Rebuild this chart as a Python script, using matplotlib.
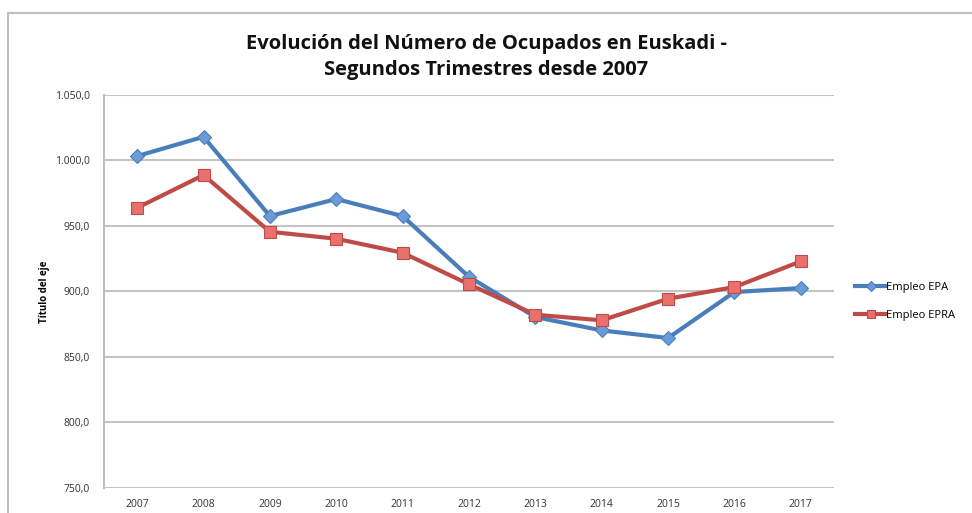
import numpy as np
import matplotlib
matplotlib.use("Agg")
from matplotlib import pyplot as plt
from matplotlib.patches import Rectangle
from matplotlib.ticker import FuncFormatter

### Data (thousands of employed, Q2 each year)
years = ['2007', '2008', '2009', '2010', '2011', '2012',
         '2013', '2014', '2015', '2016', '2017']
empleo_epa = [1003.3, 1018.0, 957.5, 970.5, 957.5, 911.1,
              880.4, 870.2, 864.4, 899.5, 902.5]
empleo_epra = [963.8, 988.8, 945.5, 940.2, 929.5, 905.4,
               882.2, 877.9, 894.4, 903.3, 922.9]
series_names = ['Empleo EPA', 'Empleo EPRA']

title = u'Evolución del Número de Ocupados en Euskadi -\nSegundos Trimestres desde 2007'
ylabel = u'Título del eje'

plt.rcParams['font.family'] = ['Open Sans', 'DejaVu Sans']

fig = plt.figure(figsize=(9.72, 5.13), dpi=100)
ax = fig.add_axes([0.107, 0.049, 0.751, 0.766])

# outer chart frame (cut off at right and bottom like the screenshot)
fig.patches.append(Rectangle((8 / 972., -0.1), 1.2, 1 - 13 / 513. + 0.1,
                             transform=fig.transFigure, fill=False,
                             edgecolor='#bfbfbf', linewidth=1.5))

x = np.arange(len(years))
ax.plot(x, empleo_epa, color='#4a7ebb', linewidth=3, marker='D',
        markersize=7, markerfacecolor='#6a9bd8', markeredgecolor='#4a7ebb',
        markeredgewidth=0.8, label=series_names[0], zorder=3)
ax.plot(x, empleo_epra, color='#be4b48', linewidth=3, marker='s',
        markersize=9, markerfacecolor='#e8716d', markeredgecolor='#be4b48',
        markeredgewidth=0.8, label=series_names[1], zorder=3)

ax.set_xlim(-0.5, len(years) - 0.5)
ax.set_ylim(750, 1050)
ax.set_yticks(np.arange(750, 1051, 50))
ax.yaxis.set_major_formatter(FuncFormatter(
    lambda v, p: '{:,.1f}'.format(v).replace(',', 'X').replace('.', ',').replace('X', '.')))
ax.set_xticks(x)
ax.set_xticklabels(years)

ax.grid(axis='y', color='#c4c4c4', linewidth=1.5)
ax.set_axisbelow(True)
for s in ['top', 'right', 'bottom']:
    ax.spines[s].set_visible(False)
ax.spines['left'].set_color('#bfbfbf')
ax.spines['left'].set_linewidth(1.5)
ax.tick_params(axis='both', length=0, labelsize=7.5, colors='#333333', pad=8)
ax.tick_params(axis='y', pad=10)

ax.set_ylabel(ylabel, fontsize=7, fontweight='bold', labelpad=4)
fig.text(0.50, 0.889, title, ha='center', va='center', fontsize=14.5,
         fontweight='bold', linespacing=1.4, color='#111111')

leg = ax.legend(loc='center left', bbox_to_anchor=(1.0, 0.474), frameon=False,
                fontsize=8, handlelength=2.8, handletextpad=0.0,
                labelspacing=1.5, borderaxespad=1.5, markerscale=0.7)

fig.savefig('out.png', dpi=100)
